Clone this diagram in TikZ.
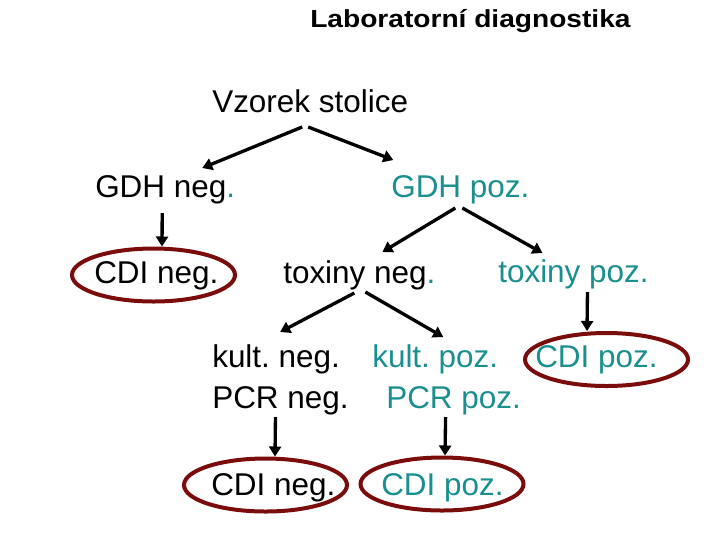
\documentclass[tikz,border=0pt]{standalone}
\usepackage{fontspec}
\usepackage{graphicx}
\setmainfont{Liberation Sans}
\usetikzlibrary{arrows.meta,shapes.geometric}
\definecolor{tealtx}{RGB}{26,143,143}
\definecolor{maroonring}{RGB}{122,12,12}
\frenchspacing
\begin{document}
\begin{tikzpicture}[x=0.75pt,y=-0.75pt,
  lbl/.style={inner sep=0pt,anchor=base west,font=\fontsize{23.6pt}{28pt}\selectfont},
  poz/.style={lbl,text=tealtx},
  ring/.style={draw=maroonring,line width=3pt,ellipse,inner sep=0pt,minimum width=122.25pt,minimum height=39.75pt},
  arr/.style={line width=2.5pt,-{Triangle[length=7.5pt,width=9pt]}}]
\useasboundingbox (0,0) rectangle (720,540);
% rings
\node[ring] (e1) at (153.5,275) {};
\node[ring] (e3) at (606.5,359.5) {};
\node[ring] (e4) at (265.5,485) {};
\node[ring] (e5) at (442,484) {};
% title
\node[inner sep=0pt,anchor=base west] (title) at (310,27.5)
  {\scalebox{1.14}[1]{\fontsize{18.5pt}{22pt}\selectfont\bfseries Laboratorní diagnostika}};
% labels
\node[lbl] (vz) at (212,112) {Vzorek stolice};
\node[lbl] (gdhneg) at (95,197.5) {GDH neg\textcolor{tealtx}{.}};
\node[poz] (gdhpoz) at (391,197.5) {GDH poz.};
\node[lbl] (cdineg1) at (94,283) {CDI neg.};
\node[lbl] (toxneg) at (283,283) {toxiny neg\textcolor{tealtx}{.}};
\node[poz] (toxpoz) at (498,282.5) {toxiny poz.};
\node[lbl] (kultneg) at (212,367) {kult. neg.};
\node[poz] (kultpoz) at (372,367) {kult. poz.};
\node[poz] (cdipoz3) at (535,367) {CDI poz.};
\node[lbl] (pcrneg) at (212,408) {PCR neg.};
\node[poz] (pcrpoz) at (386,408) {PCR poz.};
\node[lbl] (cdineg4) at (211,495) {CDI neg.};
\node[poz] (cdipoz5) at (381,495) {CDI poz.};
% arrows
\draw[arr] ([shift={(-8,15)}]vz.base) -- ([shift={(37,-29.5)}]gdhneg.base);
\draw[arr] ([shift={(-2,15)}]vz.base) -- ([shift={(-67,-37.5)}]gdhpoz.base);
\draw[arr] ([shift={(-3,15.5)}]gdhneg.base) -- ([shift={(8.5,0)}]e1.north);
\draw[arr] ([shift={(-5,10.5)}]gdhpoz.base) -- ([shift={(23,-31)}]toxneg.base);
\draw[arr] ([shift={(2,10.5)}]gdhpoz.base) -- ([shift={(-31,-29.5)}]toxpoz.base);
\draw[arr] ([shift={(-5,10)}]toxneg.base) -- ([shift={(4,-35)}]kultneg.base);
\draw[arr] ([shift={(6,9)}]toxneg.base) -- ([shift={(8,-30)}]kultpoz.base);
\draw[arr] ([shift={(14,9.5)}]toxpoz.base) -- ([shift={(-19.5,0)}]e3.north);
\draw[arr] ([shift={(-5,9)}]pcrneg.base) -- ([shift={(9.5,0)}]e4.north);
\draw[arr] ([shift={(-8,9)}]pcrpoz.base) -- ([shift={(3,0)}]e5.north);
\end{tikzpicture}
\end{document}
